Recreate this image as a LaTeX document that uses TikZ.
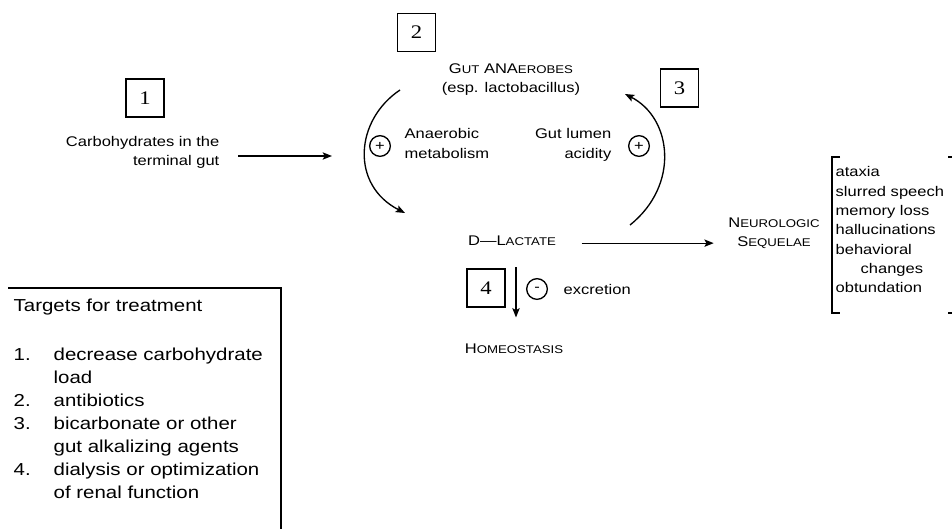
\documentclass[tikz,border=0pt]{standalone}
\usepackage{fontspec}
\setmainfont{Liberation Sans}[FakeStretch=1.18]
\newfontfamily\numfont{Liberation Serif}[FakeStretch=1.18]
\usetikzlibrary{arrows.meta}
\newcommand{\smc}[1]{{\fontsize{8.4pt}{14.5pt}\selectfont #1}}
\newcommand{\itm}[1]{\makebox[30pt][l]{#1}}

\begin{document}
\begin{tikzpicture}[x=0.75pt, y=-0.75pt, line width=1pt,
      >={Stealth[length=7pt,width=5.5pt,inset=1.5pt]},
      every node/.append style={inner sep=0pt,font=\fontsize{10.5pt}{14.5pt}\selectfont}]
    \tikzstyle{numbox} = [draw,minimum size=28.5pt,font=\numfont\fontsize{14.4pt}{16pt}\selectfont]
    \tikzstyle{sign} = [draw,circle,minimum size=15.5pt]
    \tikzstyle{treat} = [font=\fontsize{13pt}{17.25pt}\selectfont,align=left]
    \useasboundingbox (0,0) rectangle (952,528);
    \node [numbox] (box1) at (145,98) {1};
    \node [numbox] (box2) at (416.5,32.5) {2};
    \node [numbox] (box3) at (679.5,88) {3};
    \node [numbox] (box4) at (486,288) {4};
    \node [align=right,anchor=north east] (carbs) at (220,135.5) {Carbohydrates in the\\terminal gut};
    \node [align=center,anchor=north] (gut) at (511,63) {G\smc{UT} ANA\smc{EROBES}\\(esp. lactobacillus)};
    \node [align=left,anchor=north west] (anaer) at (404,128) {Anaerobic\\metabolism};
    \node [align=right,anchor=north east] (lumen) at (612,128) {Gut lumen\\acidity};
    \node [sign] (plus1) at (380,146) {+};
    \node [sign] (plus2) at (639,146) {+};
    \node (lactate) at (512,240.5) {D---L\smc{ACTATE}};
    \node [align=center,anchor=north] (neuro) at (774,217) {N\smc{EUROLOGIC}\\S\smc{EQUELAE}};
    \node (homeo) at (514,349) {H\smc{OMEOSTASIS}};
    \node [sign] (minus) at (537,289) {-};
    \node [anchor=west] (excr) at (563,289) {excretion};
    \node [align=left,anchor=north west] (sympt) at (835,166)
      {ataxia\\slurred speech\\memory loss\\hallucinations\\behavioral\\\hspace*{18.75pt}changes\\obtundation};
    \node [treat,anchor=north west] (targets) at (13,298)
      {Targets for treatment\\[19.5pt]
       \itm{1.}decrease carbohydrate\\\itm{}load\\
       \itm{2.}antibiotics\\
       \itm{3.}bicarbonate or other\\\itm{}gut alkalizing agents\\
       \itm{4.}dialysis or optimization\\\itm{}of renal function};
    \coordinate (cyclein) at (332,156);
    \coordinate (gutout) at (400,90);
    \coordinate (lacin) at (405,213);
    \coordinate (lacout) at (630,225);
    \coordinate (gutin) at (625,94);
    \draw [->,shorten <=13.5pt] (carbs.east |- cyclein) -- (cyclein);
    \draw [->] (gutout) .. controls (355,120) and (350,185) .. (lacin);
    \draw [->] (lacout) .. controls (680,185) and (672,118) .. (gutin);
    \draw [->,shorten <=18.75pt,shorten >=10.5pt] ([yshift=-2pt]lactate.east) -- ([yshift=-2pt]lactate.east -| neuro.west);
    \draw [->,shorten <=15.75pt,shorten >=19.5pt] ([xshift=3pt]lactate.south) -- ([xshift=3pt]lactate.south |- homeo.north);
    \draw (8,288) -- (281,288) -- (281,532);
    \draw (840,157) -- (832,157) -- (832,313) -- (840,313);
    \draw (948,157) -- (956,157) -- (956,313) -- (948,313);
  \end{tikzpicture}
\end{document}
